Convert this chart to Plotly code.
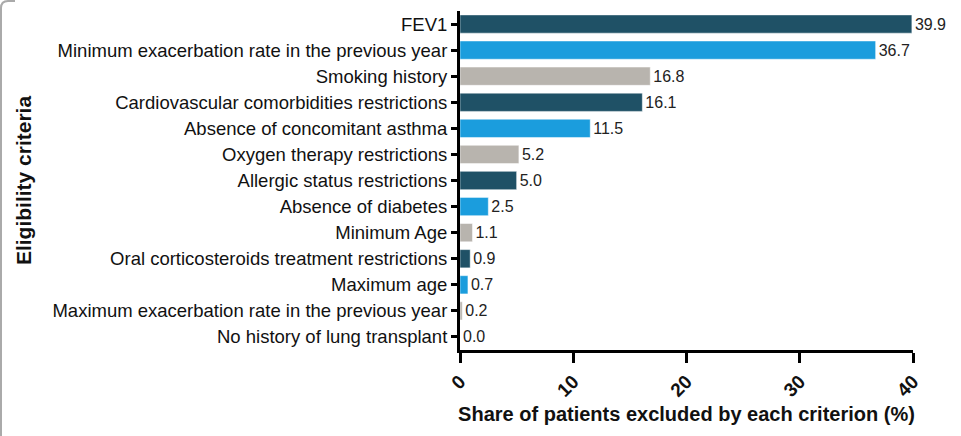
import plotly.graph_objects as go

categories = [
    "FEV1",
    "Minimum exacerbation rate in the previous year",
    "Smoking history",
    "Cardiovascular comorbidities restrictions",
    "Absence of concomitant asthma",
    "Oxygen therapy restrictions",
    "Allergic status restrictions",
    "Absence of diabetes",
    "Minimum Age",
    "Oral corticosteroids treatment restrictions",
    "Maximum age",
    "Maximum exacerbation rate in the previous year",
    "No history of lung transplant",
]
values = [39.9, 36.7, 16.8, 16.1, 11.5, 5.2, 5.0, 2.5, 1.1, 0.9, 0.7, 0.2, 0.0]
value_labels = ["39.9", "36.7", "16.8", "16.1", "11.5", "5.2", "5.0", "2.5", "1.1", "0.9", "0.7", "0.2", "0.0"]
palette = ["#1f5166", "#1b9ddd", "#b8b4ae"]
colors = [palette[i % 3] for i in range(len(categories))]
x_ticks = [0, 10, 20, 30, 40]

font = "Liberation Sans, Arial, sans-serif"

fig = go.Figure(go.Bar(
    y=categories,
    x=values,
    orientation="h",
    marker=dict(color=colors, line=dict(color="rgba(255,255,255,0.6)", width=0.8)),
    width=0.7,
    text=value_labels,
    textposition="outside",
    cliponaxis=False,
    textfont=dict(size=16, color="#222", family=font),
))

fig.update_layout(
    width=961, height=436,
    margin=dict(l=460, r=48, t=11, b=86),
    paper_bgcolor="white", plot_bgcolor="white",
    font=dict(family=font, color="#111"),
    showlegend=False,
    xaxis=dict(
        range=[0, 40], tickvals=x_ticks, ticktext=["<b>%d</b>" % t for t in x_ticks],
        tickangle=-45, ticks="outside", ticklen=10, tickwidth=3, tickcolor="black",
        showline=True, linewidth=3, linecolor="black", showgrid=False, zeroline=False,
        tickfont=dict(size=19, color="#111"),
        title=dict(text="<b>Share of patients excluded by each criterion (%)</b>",
                   font=dict(size=20, color="#111"), standoff=8),
    ),
    yaxis=dict(
        autorange=False, range=[12.5, -0.5],
        categoryorder="array", categoryarray=categories,
        ticks="outside", ticklen=6, tickwidth=3, tickcolor="black",
        showline=True, linewidth=3, linecolor="black", showgrid=False,
        tickfont=dict(size=18.5, color="#111"),
        title=dict(text="<b>Eligibility criteria</b>", font=dict(size=21, color="#111"), standoff=16),
    ),
)

# faint frame edge on the left of the image
fig.add_shape(type="path", xref="paper", yref="paper",
              path="M %f %f L %f %f Q %f %f %f %f L %f %f" % (
                  -459/453, -86/339, -459/453, 1 + 3/339, -459/453, 1 + 10/339, -452/453, 1 + 10/339,
                  -445/453, 1 + 10/339),
              line=dict(color="#aaa", width=2))

fig.write_html("out.html")
